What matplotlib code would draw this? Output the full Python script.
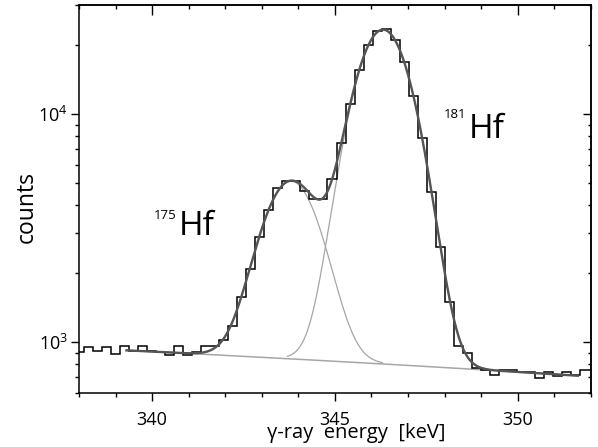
import numpy as np
import matplotlib
matplotlib.use("Agg")
import matplotlib.pyplot as plt
from matplotlib.ticker import MultipleLocator, NullFormatter, LogLocator

# ---------------- data ----------------
bin_lo = 337.88          # lower edge of first histogram bin [keV]
bin_width = 0.2471       # histogram bin width [keV]
counts = [904, 947, 910, 954, 889, 966, 913, 960, 915, 903,
          878, 957, 880, 905, 957, 960, 1020, 1180, 1578, 2100,
          2880, 3800, 4720, 5100, 5100, 4620, 4230, 4230, 5170, 7440,
          11120, 15580, 20000, 23100, 23700, 21200, 16900, 12000, 7870, 4530,
          2600, 1506, 957, 892, 769, 751, 719, 751, 751, 743,
          740, 696, 740, 707, 743, 719, 756, 756]

# fit: linear background + two Gaussian peaks
fit_range = [339.3, 351.65]
bg_ends = [920, 712]             # background counts at fit_range ends
peak_names = ["175", "181"]
peak_centers = [343.80, 346.32]
peak_amps = [4230, 22650]
peak_sigmas = [0.72, 0.70]
comp_ranges = [[339.3, 346.3], [343.7, 351.65]]

# ---------------- figure ----------------
font = "Open Sans"
plt.rcParams["font.family"] = [font, "DejaVu Sans"]
plt.rcParams["mathtext.fontset"] = "custom"
plt.rcParams["mathtext.rm"] = font

fig = plt.figure(figsize=(5.98, 4.47), dpi=100)
ax = fig.add_axes([0.1321, 0.1215, 0.8557, 0.8667])

edges = bin_lo + bin_width * np.arange(len(counts) + 1)


def background(x):
    return bg_ends[0] + (bg_ends[1] - bg_ends[0]) * (x - fit_range[0]) / (fit_range[1] - fit_range[0])


def gauss(x, i):
    return peak_amps[i] * np.exp(-0.5 * ((x - peak_centers[i]) / peak_sigmas[i]) ** 2)


light = "#a6a6a6"
xf = np.linspace(fit_range[0], fit_range[1], 600)
ax.plot(xf, background(xf), color=light, lw=1.1, zorder=2)
for i in range(2):
    xc = np.linspace(comp_ranges[i][0], comp_ranges[i][1], 400)
    ax.plot(xc, background(xc) + gauss(xc, i), color=light, lw=0.9, zorder=2)

ax.stairs(counts, edges, baseline=None, color="black", lw=1.1, zorder=3)
ax.plot(xf, background(xf) + gauss(xf, 0) + gauss(xf, 1), color="#555555", lw=1.7, zorder=4)

ax.set_yscale("log")
ax.set_xlim(338, 352)
ax.set_ylim(600, 30000)

ax.xaxis.set_major_locator(MultipleLocator(5))
ax.xaxis.set_minor_locator(MultipleLocator(1))
ax.yaxis.set_major_locator(LogLocator(base=10))
ax.yaxis.set_minor_locator(LogLocator(base=10, subs=np.arange(2, 10)))
ax.yaxis.set_minor_formatter(NullFormatter())

for s in ax.spines.values():
    s.set_linewidth(1.1)

ax.tick_params(which="both", direction="out", top=False, right=False, width=1.0, labelsize=13)
ax.tick_params(which="major", length=6)
ax.tick_params(which="minor", length=3)
ax.tick_params(axis="x", pad=7)
ax.tick_params(axis="y", pad=2)

# top and right ticks point inwards
sec_x = ax.secondary_xaxis("top")
sec_x.xaxis.set_major_locator(MultipleLocator(5))
sec_x.xaxis.set_minor_locator(MultipleLocator(1))
sec_x.tick_params(which="both", direction="in", labeltop=False, width=1.0)
sec_x.tick_params(which="major", length=7)
sec_x.tick_params(which="minor", length=3)
sec_x.spines["top"].set_linewidth(1.1)

sec_y = ax.secondary_yaxis("right")
sec_y.yaxis.set_major_locator(LogLocator(base=10))
sec_y.yaxis.set_minor_locator(LogLocator(base=10, subs=np.arange(2, 10)))
sec_y.tick_params(which="both", direction="in", labelright=False, width=1.0)
sec_y.tick_params(which="major", length=6)
sec_y.tick_params(which="minor", length=2.5)
sec_y.spines["right"].set_linewidth(1.1)

ax.set_xlabel("γ-ray  energy  [keV]", fontsize=14.5, va="baseline")
ax.xaxis.set_label_coords(0.541, -0.1177)
ax.set_ylabel("counts", fontsize=16.5)
ax.yaxis.set_label_coords(-0.078, 0.48)

# peak labels
ax.text(340.06, 3826, peak_names[0], fontsize=9.5, ha="left", va="top")
ax.text(340.72, 2952, "Hf", fontsize=24, ha="left", va="baseline")
ax.text(347.99, 10590, peak_names[1], fontsize=9.5, ha="left", va="top")
ax.text(348.67, 7833, "Hf", fontsize=24, ha="left", va="baseline")

fig.savefig("out.png", dpi=100)
